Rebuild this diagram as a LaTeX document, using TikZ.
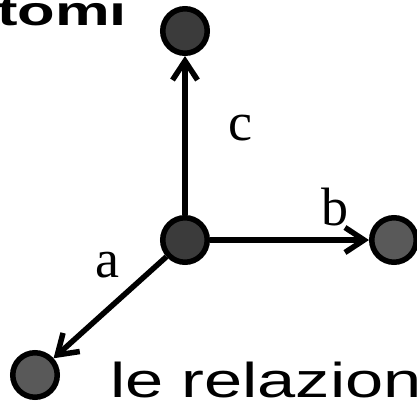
\documentclass[tikz,border=0pt]{standalone}
\usepackage{fontspec}
\setmainfont{Liberation Serif}
\newfontfamily\widesans[FakeStretch=1.4]{Liberation Sans}
\newfontfamily\widebold[FakeStretch=1.5]{Liberation Sans Bold}
\usetikzlibrary{arrows.meta}
\definecolor{darkatom}{HTML}{3B3B3B}
\definecolor{midatom}{HTML}{595959}
\tikzset{
  atom/.style={circle, draw=black, line width=5.5pt, minimum size=44.5pt, inner sep=0pt},
  axis/.style={line width=5.5pt, -{Straight Barb[length=19pt,width=25pt,line width=5.5pt]}},
  lbl/.style={font=\fontsize{54}{60}\selectfont, inner sep=0pt, anchor=base}
}
\begin{document}
\begin{tikzpicture}[x=1pt,y=-1pt]
\useasboundingbox (0,0) rectangle (417,401);
\node[atom, fill=darkatom] (o) at (185,240) {};
\node[atom, fill=darkatom] (t) at (185,31) {};
\node[atom, fill=midatom] (r) at (394,240) {};
\node[atom, fill=midatom] (bl) at (35,375) {};
\draw[axis] (o) -- (t);
\draw[axis] (o) -- (r);
\draw[axis] (o) -- (bl);
\node[lbl] (lc) at (240,140) {c};
\node[lbl] (lb) at (335,225) {b};
\node[lbl] (la) at (107,277) {a};
\node[anchor=base west, inner sep=0pt, font=\widebold\fontsize{41}{46}\selectfont] (title) at (-3,26) {tomi};
\node[anchor=base west, inner sep=0pt, font=\widesans\fontsize{49}{54}\selectfont] (rel) at (110,397) {le\hspace{18pt}relazion};
\end{tikzpicture}
\end{document}
